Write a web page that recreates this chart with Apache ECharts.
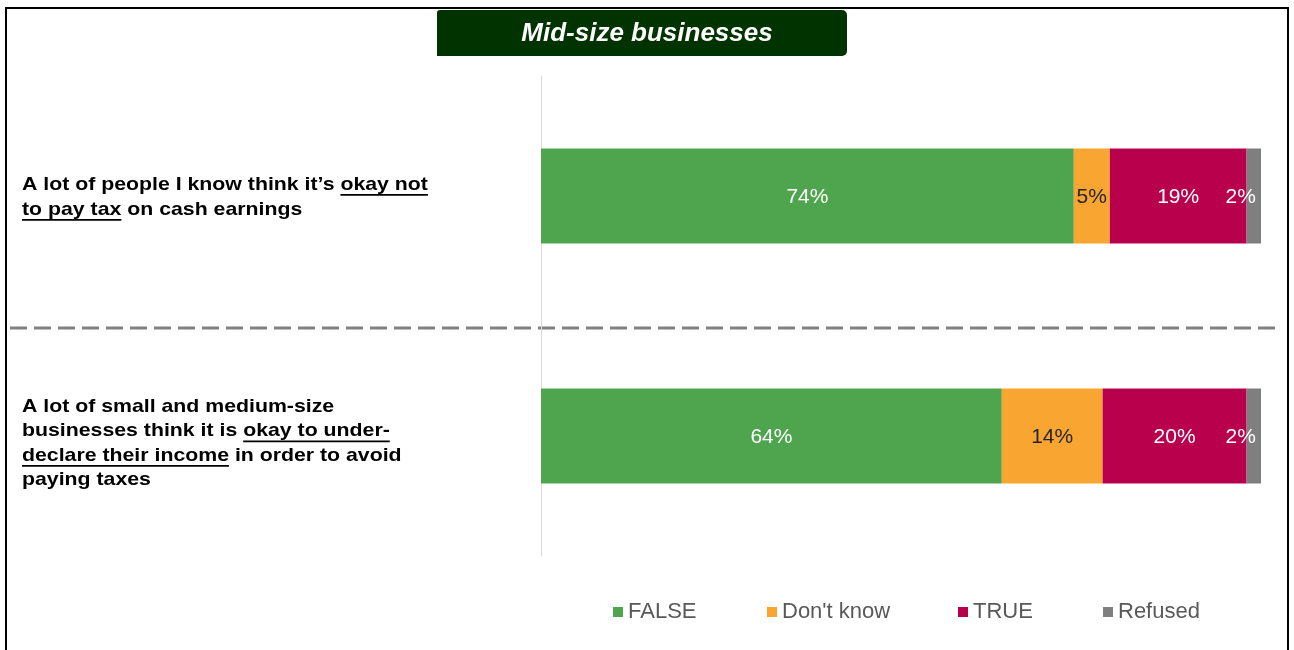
<!DOCTYPE html>
<html>
<head>
<meta charset="utf-8">
<script src="https://cdn.jsdelivr.net/npm/echarts@6/dist/echarts.min.js"></script>
<style>
html,body{margin:0;padding:0;background:#fff;}
#main{width:1294px;height:650px;}
</style>
</head>
<body>
<div id="main"></div>
<script>
const categories = ['Q1', 'Q2'];
const seriesNames = ['FALSE', "Don't know", 'TRUE', 'Refused'];
const falseVals = [74, 64];
const dontKnowVals = [5, 14];
const trueVals = [19, 20];
const refusedVals = [2, 2];
const titleText = 'Mid-size businesses';
// question text lines: each line is a list of [text, underlined]
const question1Lines = [
  [["A lot of people I know think it\u2019s ", false], ["okay not", true]],
  [["to pay tax", true], [" on cash earnings", false]]
];
const question2Lines = [
  [["A lot of small and medium-size", false]],
  [["businesses think it is ", false], ["okay to under-", true]],
  [["declare their income", true], [" in order to avoid", false]],
  [["paying taxes", false]]
];

const colors = ['#4EA54E', '#F8A532', '#B9004D', '#7F7F7F'];
const labelColors = ['#ffffff', '#262626', '#ffffff', '#ffffff'];
const FF = '"Liberation Sans", Arial, sans-serif';
const FONT = 'bold 19px ' + FF;
const SX = 1.12;

const cv = document.createElement('canvas').getContext('2d');
cv.font = FONT;

function buildQuestion(lines, x0, yTop, lineH) {
  const children = [];
  lines.forEach((parts, i) => {
    let x = 0;
    const y = i * lineH;
    parts.forEach(([txt, ul]) => {
      const w = cv.measureText(txt).width;
      children.push({
        type: 'text', x: x, y: y,
        style: { text: txt, font: FONT, fill: '#000000', textVerticalAlign: 'top' }
      });
      if (ul) {
        children.push({
          type: 'rect', shape: { x: x, y: y + 19, width: w, height: 1.7 },
          style: { fill: '#000000' }
        });
      }
      x += w;
    });
  });
  return { type: 'group', x: x0, y: yTop, scaleX: SX, scaleY: 1, originX: 0, originY: 0, children: children };
}

const legendLefts = [608, 762, 953, 1098];

const chart = echarts.init(document.getElementById('main'));
const data = [falseVals, dontKnowVals, trueVals, refusedVals];

const option = {
  animation: false,
  backgroundColor: '#ffffff',
  grid: { left: 541, width: 720, top: 76, height: 480 },
  xAxis: { type: 'value', min: 0, max: 100, show: false },
  yAxis: {
    type: 'category', data: categories, inverse: true,
    axisLine: { show: true, lineStyle: { color: '#D9D9D9', width: 1 } },
    axisTick: { show: false },
    axisLabel: { show: false }
  },
  legend: seriesNames.map((name, i) => ({
    data: [name],
    left: legendLefts[i], top: 596,
    itemWidth: 10, itemHeight: 10,
    icon: 'rect',
    textStyle: { fontSize: 22, color: '#595959', fontFamily: FF }
  })),
  series: seriesNames.map((name, i) => ({
    name: name,
    type: 'bar',
    stack: 'total',
    barWidth: 95,
    itemStyle: { color: colors[i] },
    label: {
      show: true,
      position: 'inside',
      offset: i === 3 ? [-13, 1] : [0, 1],
      formatter: p => p.value + '%',
      color: labelColors[i],
      fontSize: 21,
      fontFamily: FF
    },
    data: data[i]
  })),
  graphic: [
    { type: 'line', shape: { x1: 6, y1: 7, x2: 6, y2: 650 }, style: { stroke: '#000', lineWidth: 2 } },
    { type: 'line', shape: { x1: 5, y1: 8, x2: 1289, y2: 8 }, style: { stroke: '#000', lineWidth: 2 } },
    { type: 'line', shape: { x1: 1288, y1: 7, x2: 1288, y2: 650 }, style: { stroke: '#000', lineWidth: 2 } },
    { type: 'line', shape: { x1: 10, y1: 328, x2: 1275, y2: 328 },
      style: { stroke: '#808080', lineWidth: 3, lineDash: [17, 7] } },
    { type: 'rect', shape: { x: 437, y: 10, width: 410, height: 46, r: [3, 5, 5, 0] },
      style: { fill: '#003300' } },
    { type: 'text', x: 647, y: 34,
      style: { text: titleText, fill: '#ffffff', font: 'italic bold 26px ' + FF,
               textAlign: 'center', textVerticalAlign: 'middle' } },
    buildQuestion(question1Lines, 22, 175, 25),
    buildQuestion(question2Lines, 22, 397, 24.5)
  ]
};
chart.setOption(option);
</script>
</body>
</html>
